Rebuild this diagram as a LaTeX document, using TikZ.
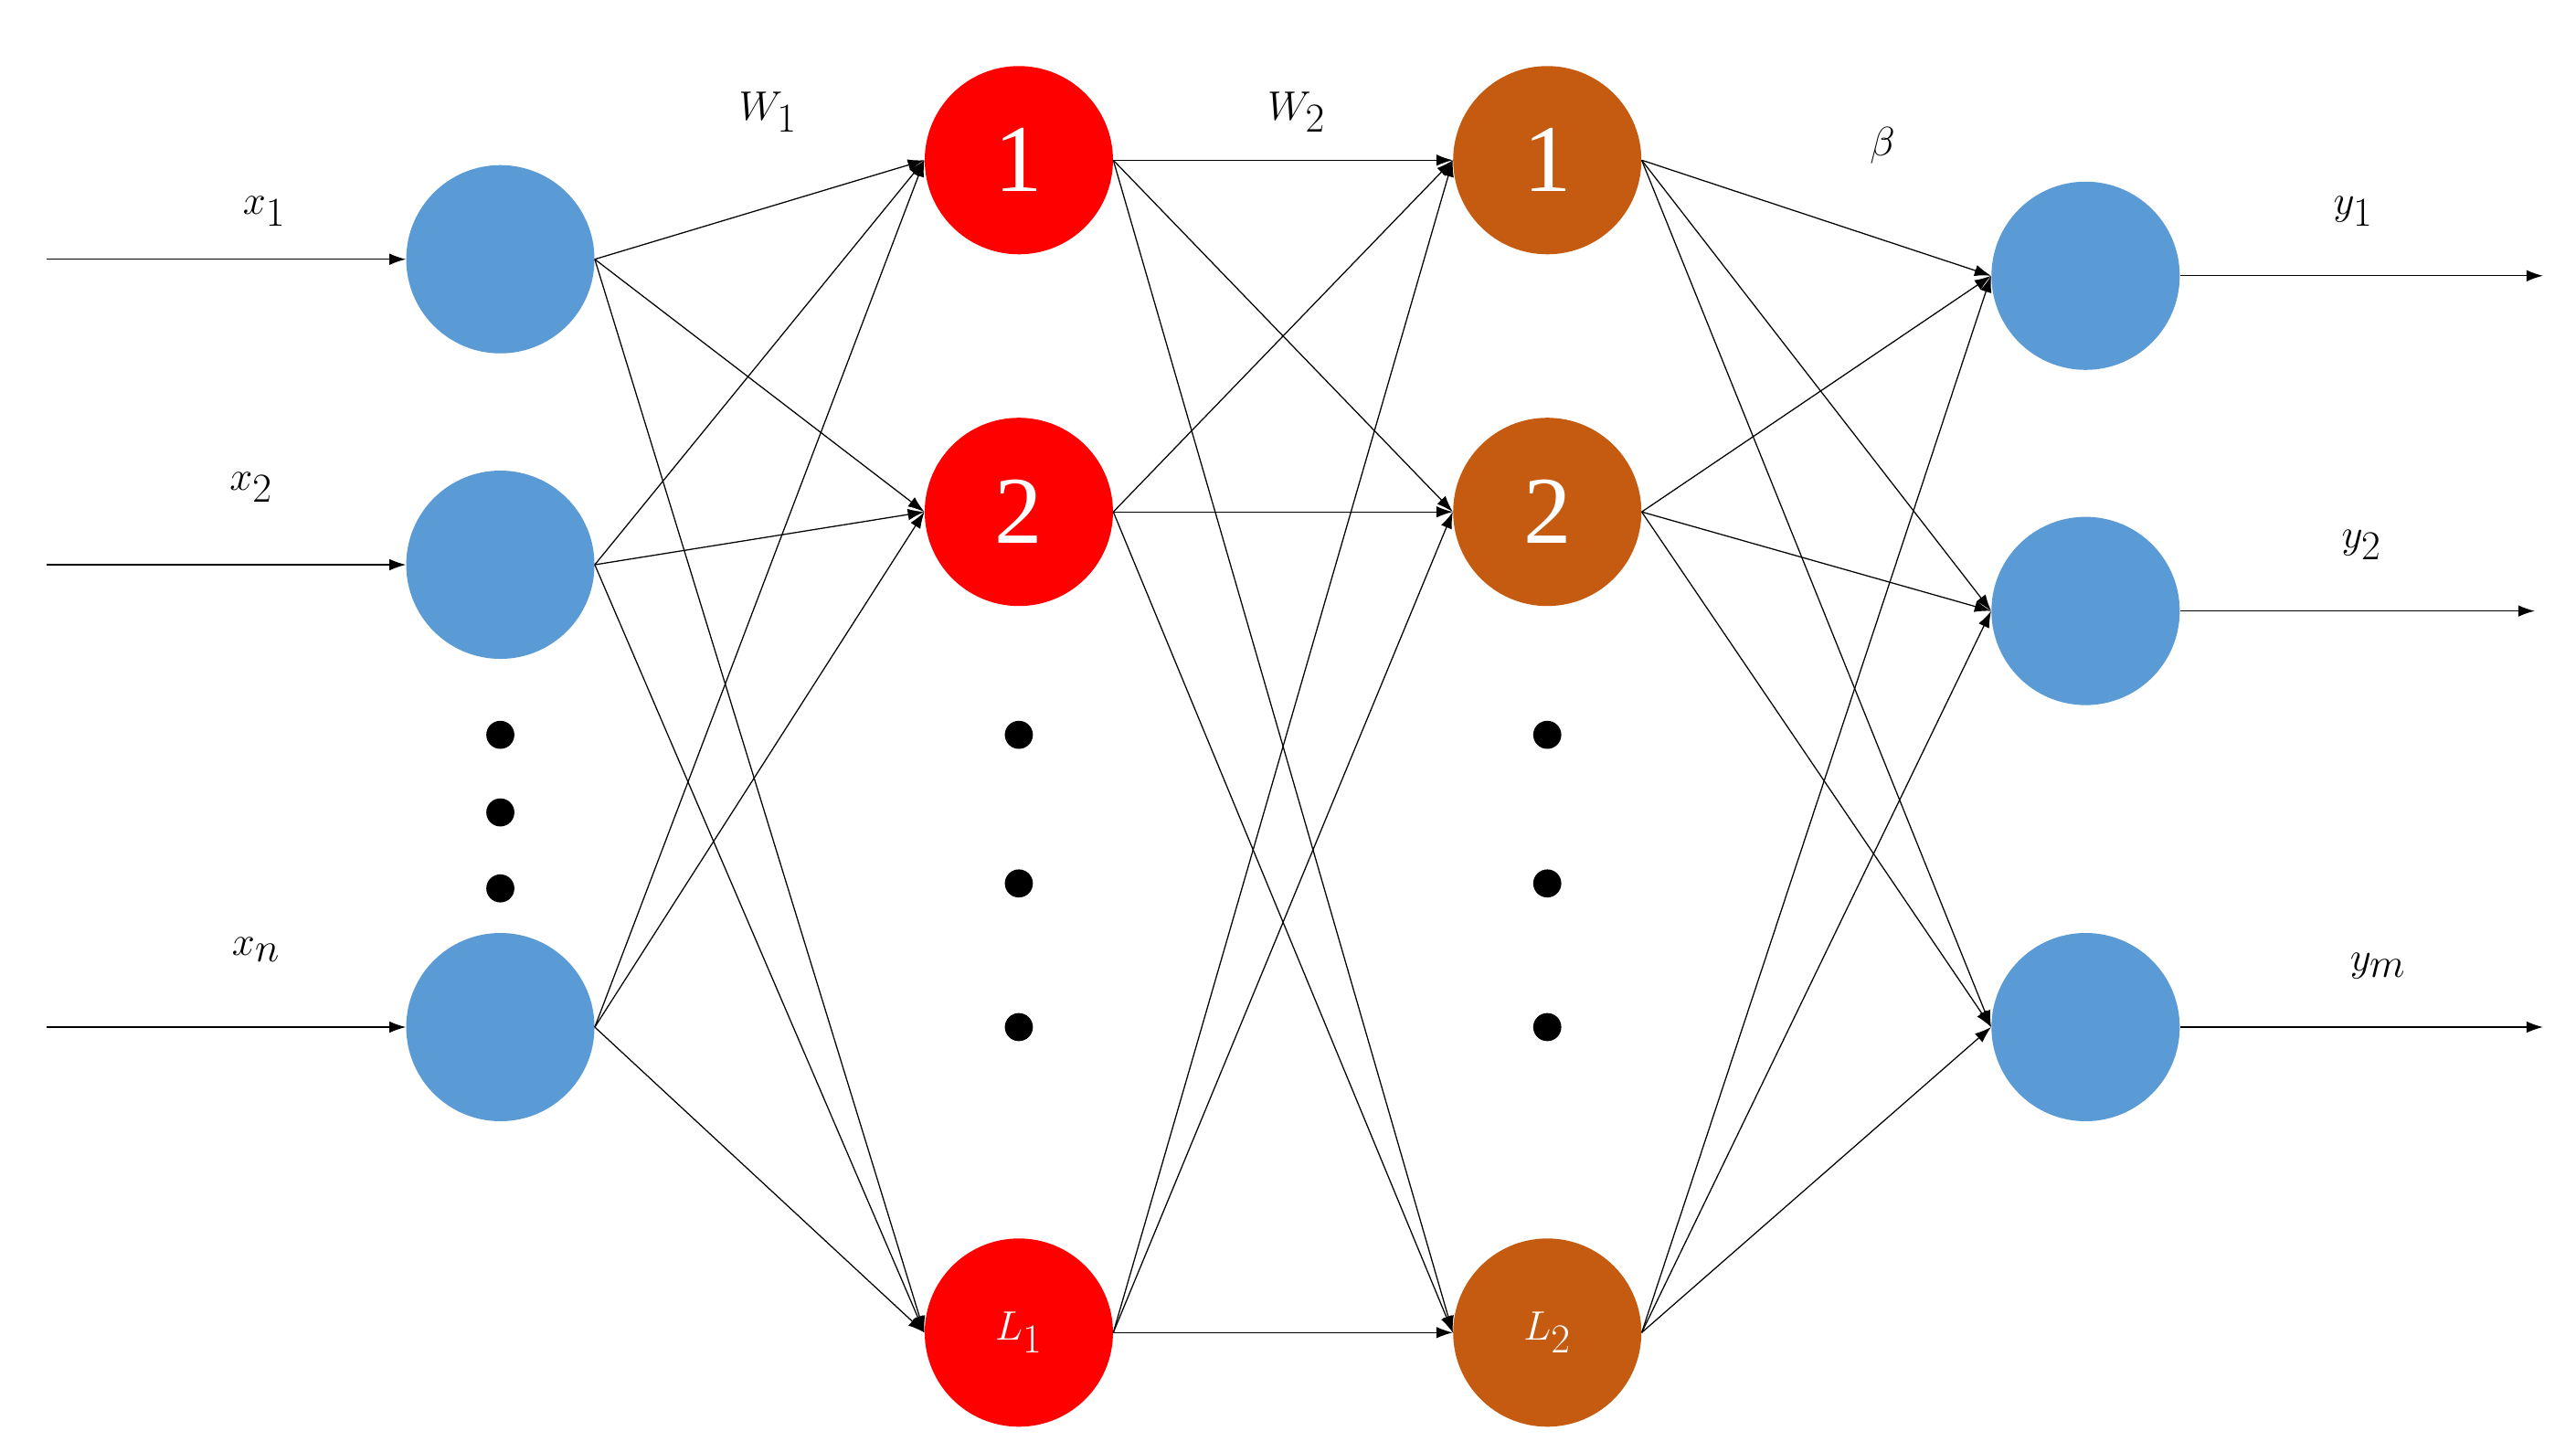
\documentclass[tikz,border=0pt]{standalone}
\usepackage{fontspec}
\setmainfont{Liberation Serif}
\usetikzlibrary{arrows.meta}
\definecolor{nblue}{RGB}{91,155,213}
\definecolor{nred}{RGB}{255,0,0}
\definecolor{norange}{RGB}{197,90,17}
\begin{document}
\begin{tikzpicture}[x=1pt,y=-1pt,
  neu/.style={circle,minimum size=114pt,inner sep=0pt,font=\fontsize{58}{58}\selectfont,text=white},
  inp/.style={neu,fill=nblue},
  h1/.style={neu,fill=nred},
  h2/.style={neu,fill=norange},
  con/.style={line width=0.7pt,-{Latex[length=10pt,width=7pt]}},
  dot/.style={circle,fill=black,minimum size=17pt,inner sep=0pt},
  lab/.style={font=\fontsize{60}{60}\selectfont\itshape}]
\useasboundingbox (0,0) rectangle (1560,879);
\node[inp] (i1) at (303,157) {};
\node[inp] (i2) at (303,342) {};
\node[inp] (i3) at (303,622) {};
\node[h1] (a1) at (617,97) {1};
\node[h1] (a2) at (617,310) {2};
\node[h1] (a3) at (617,807) {$L_1$};
\node[h2] (b1) at (937,97) {1};
\node[h2] (b2) at (937,310) {2};
\node[h2] (b3) at (937,807) {$L_2$};
\node[inp] (o1) at (1263,167) {};
\node[inp] (o2) at (1263,370) {};
\node[inp] (o3) at (1263,622) {};
\foreach \y [count=\k] in {445,492,538} \node[dot] (di\k) at (303,\y) {};
\foreach \y [count=\k] in {445,535,622} {\node[dot] (da\k) at (617,\y) {};\node[dot] (db\k) at (937,\y) {};}
\coordinate (s1) at (28,157); \coordinate (s2) at (28,342); \coordinate (s3) at (28,622);
\coordinate (e1) at (1540,167); \coordinate (e2) at (1535,370); \coordinate (e3) at (1540,622);
\foreach \k in {1,2,3} {
  \draw[con] (s\k) -- (i\k);
  \draw[con] (o\k) -- (e\k);
  \foreach \j in {1,2,3} {
    \draw[con] (i\k.east) -- (a\j.west);
    \draw[con] (a\k.east) -- (b\j.west);
    \draw[con] (b\k.east) -- (o\j.west);
  }
}
\node[lab] (lx1) at (160,128) {$x_1$};
\node[lab] (lx2) at (152,295) {$x_2$};
\node[lab] (lxn) at (155,575) {$x_n$};
\node[lab] (lw1) at (465,68) {$W_1$};
\node[lab] (lw2) at (785,68) {$W_2$};
\node[lab] (lb) at (1140,88) {$\beta$};
\node[lab] (ly1) at (1425,128) {$y_1$};
\node[lab] (ly2) at (1430,330) {$y_2$};
\node[lab] (lym) at (1440,585) {$y_m$};
\end{tikzpicture}
\end{document}
